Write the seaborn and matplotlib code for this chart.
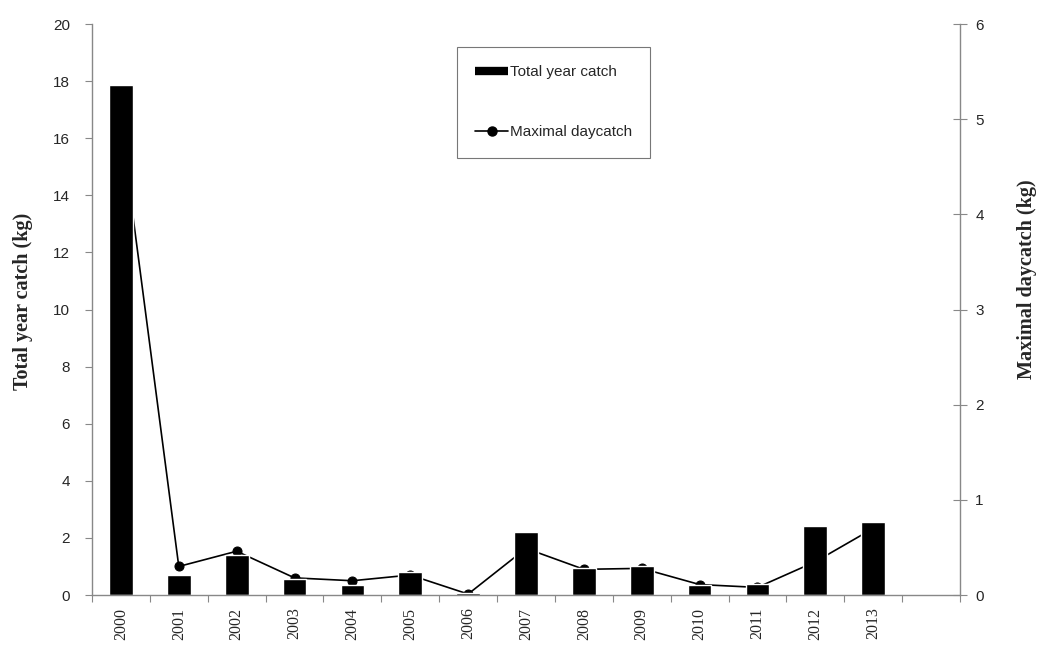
import pandas as pd
import matplotlib.pyplot as plt
from matplotlib.lines import Line2D
import seaborn as sns

### data
years = ['2000', '2001', '2002', '2003', '2004', '2005', '2006',
         '2007', '2008', '2009', '2010', '2011', '2012', '2013']
total_catch = [17.85, 0.7, 1.4, 0.55, 0.35, 0.8, 0.08,
               2.2, 0.95, 1.0, 0.35, 0.4, 2.4, 2.55]
max_daycatch = [4.95, 0.30, 0.46, 0.18, 0.15, 0.21, 0.01,
                0.49, 0.27, 0.28, 0.11, 0.08, 0.35, 0.70]

df = pd.DataFrame({'year': years, 'total': total_catch, 'maxday': max_daycatch})
df['pos'] = range(len(df))

sns.set_style('white')
plt.rcParams['font.family'] = ['Liberation Sans', 'DejaVu Sans']

fig = plt.figure(figsize=(10.56, 6.53), dpi=100)
ax = fig.add_axes([0.0871, 0.0888, 0.8220, 0.8744])
ax2 = ax.twinx()

### bars on left axis, line on right axis (drawn behind the bars)
sns.barplot(data=df, x='year', y='total', color='black', width=0.41,
            saturation=1, ax=ax)
sns.lineplot(data=df, x='pos', y='maxday', color='black', linewidth=1.2,
             marker='o', markersize=6.5, markeredgecolor='black', ax=ax2)
ax.set_zorder(ax2.get_zorder() + 1)
ax.patch.set_visible(False)

grey = '#888888'
ax.set_xlim(-0.5, 14.5)
ax.set_ylim(0, 20)
ax2.set_ylim(0, 6)
ax.set_yticks(range(0, 21, 2))
ax2.set_yticks(range(0, 7))

for s in ['top', 'right']:
    ax.spines[s].set_visible(False)
ax2.spines['top'].set_visible(False)
ax2.spines['left'].set_visible(False)
ax2.spines['bottom'].set_visible(False)
for s in ['left', 'bottom']:
    ax.spines[s].set_color(grey)
    ax.spines[s].set_linewidth(1.0)
ax2.spines['right'].set_color(grey)
ax2.spines['right'].set_linewidth(1.0)

# x ticks sit between the categories, year labels centred under the bars
ax.set_xticks([i + 0.5 for i in range(-1, 15)], minor=False)
ax.set_xticklabels([])
ax.set_xticks(range(len(years)), minor=True)
ax.set_xticklabels(years, minor=True, rotation=90,
                   family=['Liberation Serif'], fontsize=11.5)
ax.tick_params(axis='x', which='major', direction='out', length=5,
               color=grey, bottom=True)
ax.tick_params(axis='x', which='minor', length=0, pad=9)
ax.tick_params(axis='y', direction='out', length=5, color=grey, left=True,
               labelsize=11, pad=11)
ax2.tick_params(axis='y', direction='inout', length=10, color=grey, right=True,
                labelsize=11, pad=6)

ax.set_xlabel('')
ax.set_ylabel('Total year catch (kg)', family=['Liberation Serif'],
              fontweight='bold', fontsize=14.5, labelpad=14)
ax2.set_ylabel('Maximal daycatch (kg)', family=['Liberation Serif'],
               fontweight='bold', fontsize=14.5, labelpad=24)
ax.yaxis.label.set_y(0.515)
ax2.yaxis.label.set_y(0.553)

handles = [Line2D([], [], color='black', linewidth=6, solid_capstyle='butt'),
           Line2D([], [], color='black', linewidth=1.2, marker='o', markersize=6.5)]
leg = fig.legend(handles, ['Total year catch', 'Maximal daycatch'],
                 loc='upper left', bbox_to_anchor=(457 / 1056, 1 - 47 / 653),
                 fontsize=11, frameon=True, fancybox=False, labelspacing=3.0,
                 handlelength=2.15, handletextpad=0.1, borderpad=1.2,
                 borderaxespad=0)
leg.get_frame().set_edgecolor('#555555')
leg.get_frame().set_linewidth(0.8)

fig.savefig('out.png', dpi=100)
